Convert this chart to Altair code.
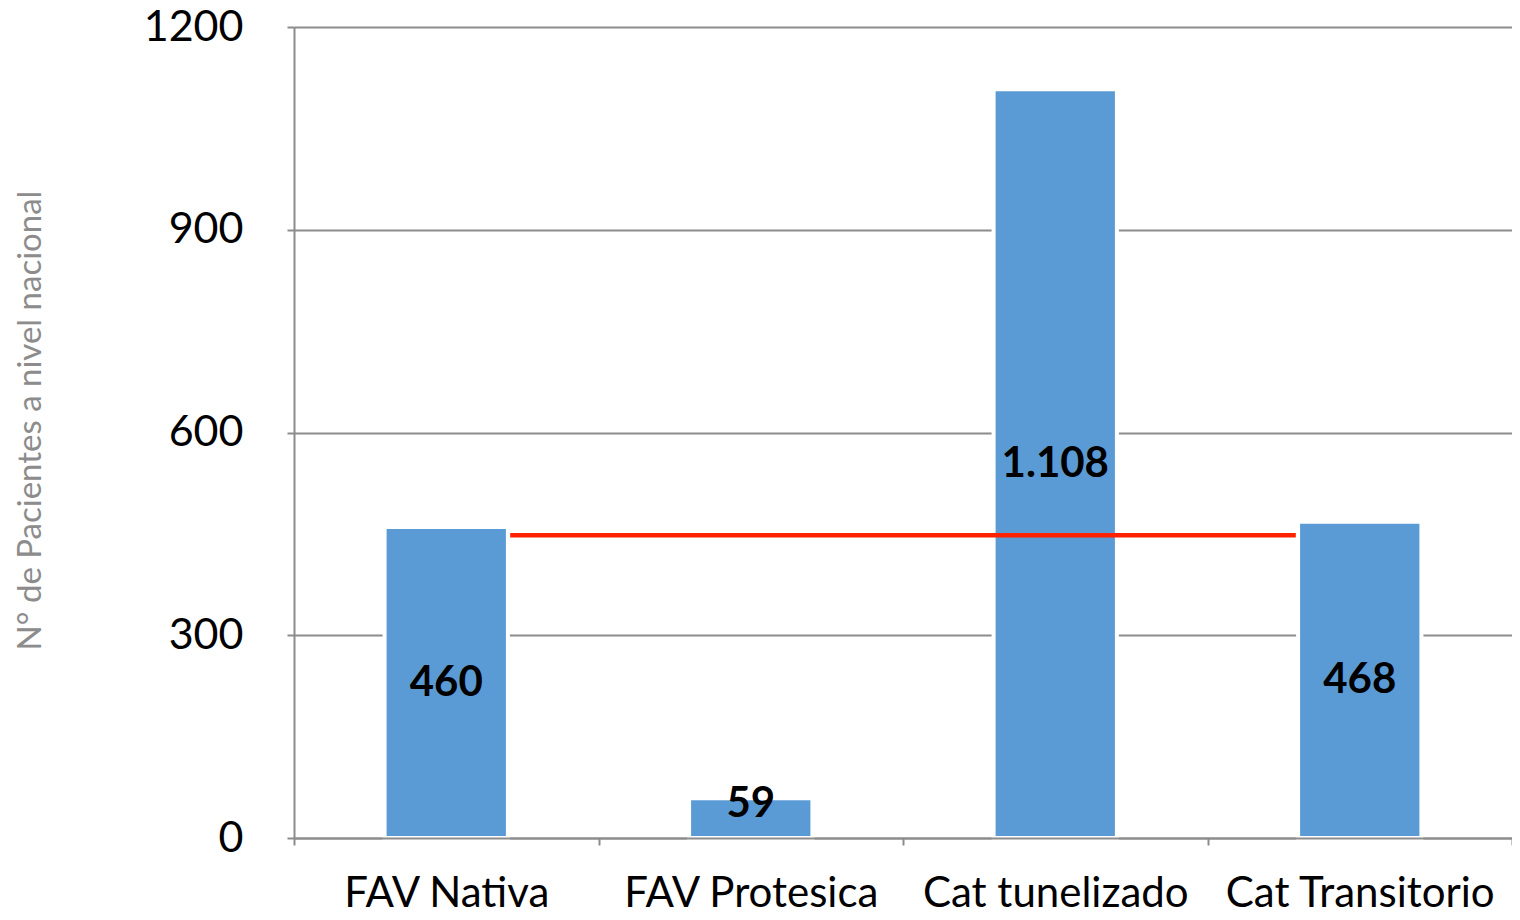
import altair as alt
import pandas as pd

categories = ["FAV Nativa", "FAV Protesica", "Cat tunelizado", "Cat Transitorio"]
values = [460, 59, 1108, 468]
value_labels = ["460", "59", "1.108", "468"]
reference_value = 448
reference_from = "FAV Nativa"
reference_to = "Cat Transitorio"
y_ticks = [0, 300, 600, 900, 1200]
y_title = "N° de Pacientes a nivel nacional"

df = pd.DataFrame({"cat": categories, "value": values, "label": value_labels})
df["label_y"] = df["value"].apply(lambda v: max(v / 2, 50))
ref = pd.DataFrame({"start": [reference_from], "end": [reference_to], "value": [reference_value]})

FONT = "Lato"
GRID = "#8c8c8c"
x_scale = alt.Scale(domain=categories, paddingInner=0, paddingOuter=0)
y_scale = alt.Scale(domain=[0, 1200], nice=False)

x_axis = alt.Axis(title=None, labelAngle=0, labelFont=FONT, labelFontSize=42, labelColor="black",
                  labelPadding=28, labelLimit=0, tickBand="extent", tickSize=7, tickColor=GRID, tickWidth=2,
                  domainColor=GRID, domainWidth=2, zindex=1, grid=False)
y_axis = alt.Axis(values=y_ticks, format="d", title=y_title, grid=True, gridColor=GRID, gridWidth=2,
                  domainColor=GRID, domainWidth=2, tickColor=GRID, tickWidth=2, tickSize=7,
                  labelFont=FONT, labelFontSize=43, labelColor="black", labelPadding=44,
                  titleFont=FONT, titleFontSize=33, titleFontWeight="normal", titleColor=GRID,
                  titleAngle=-90, titleX=-264, titleY=393, titleAlign="center", titleBaseline="middle")

bars = alt.Chart(df).mark_bar(color="#5B9BD5", stroke="white", strokeWidth=4,
                              width={"band": 0.405}).encode(
    x=alt.X("cat:N", scale=x_scale, sort=categories, axis=x_axis),
    y=alt.Y("value:Q", scale=y_scale, axis=y_axis),
)

texts = alt.Chart(df).mark_text(font=FONT, fontSize=42, fontWeight="bold", color="black",
                                baseline="middle", align="center").encode(
    x=alt.X("cat:N", scale=x_scale, sort=categories),
    y=alt.Y("label_y:Q", scale=y_scale),
    text="label:N",
)

rule = alt.Chart(ref).mark_rule(color="#FF2200", strokeWidth=4.5).encode(
    x=alt.X("start:N", scale=x_scale, sort=categories, bandPosition=0.71),
    x2=alt.X2("end", bandPosition=0.29),
    y=alt.Y("value:Q", scale=y_scale),
)

chart = alt.layer(bars, rule, texts).properties(
    width=1218, height=811,
    autosize=alt.AutoSizeParams(type="none"),
    padding={"left": 286, "top": 19, "right": 0, "bottom": 74},
).configure_view(stroke=None).configure(background="white")

chart.save("out.html", embed_options={"renderer": "svg", "actions": False})
